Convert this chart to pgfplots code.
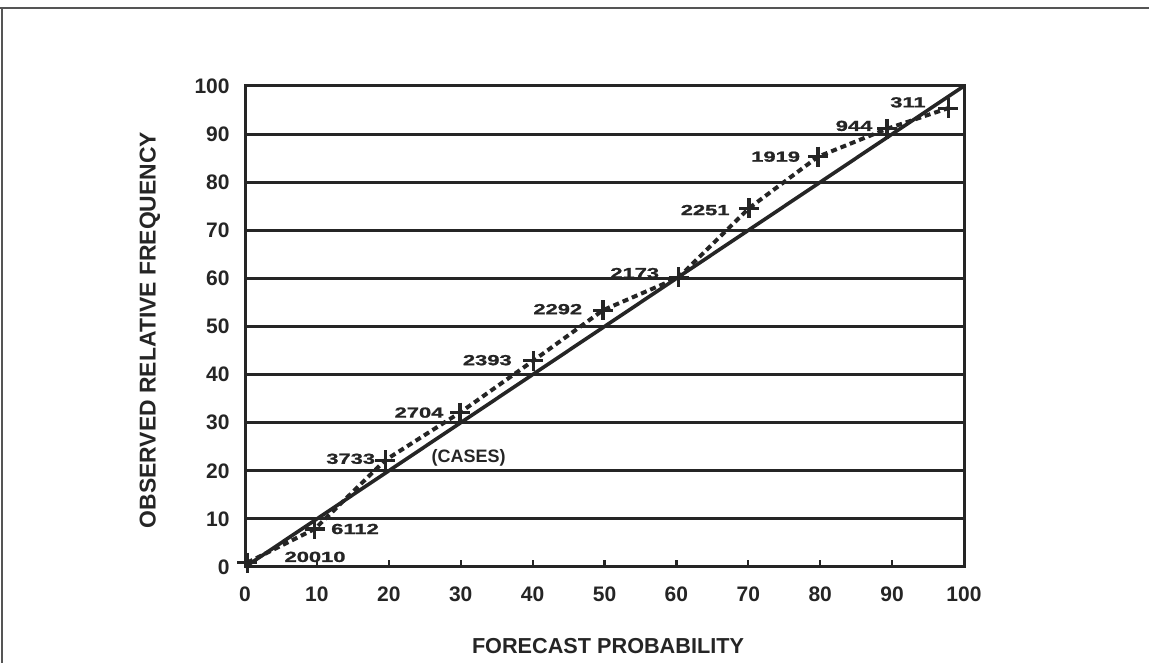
\documentclass[border=0pt]{standalone}
\usepackage{pgfplots}
\pgfplotsset{compat=1.18}
\usepackage{fontspec}
\setmainfont{Liberation Sans}
\newfontfamily\heavy[FakeBold=1.2]{Liberation Sans Bold}
\usepackage{graphicx}
\definecolor{ink}{HTML}{252525}
\definecolor{frame}{HTML}{555555}
\newcommand{\dl}[1]{\scalebox{1.5}[1]{\heavy\fontsize{7.3}{8}\selectfont #1}}
\begin{document}
\begin{tikzpicture}
\draw[frame, line width=1pt] (0pt,327.5pt) -- (574.5pt,327.5pt);
\draw[frame, line width=1pt] (1pt,327.5pt) -- (1pt,0pt);
\begin{axis}[
  at={(122.5pt,48pt)}, anchor=south west,
  width=359.5pt, height=240.5pt, scale only axis,
  xmin=0, xmax=100, ymin=0, ymax=100,
  xtick={0,10,...,100}, ytick={0,10,...,100},
  ymajorgrids, grid style={ink, line width=1.5pt},
  axis line style={ink, line width=1.5pt},
  xtick pos=bottom, ytick pos=left,
  tick align=inside, major tick length=3.5pt,
  xtick style={ink, line width=1.1pt},
  ytick style={draw=none},
  /pgf/number format/assume math mode=true,
  tick label style={font=\bfseries\fontsize{10.5}{12}\selectfont, text=ink, inner sep=0pt},
  xticklabel style={anchor=center, yshift=-13.5pt},
  yticklabel style={anchor=east, xshift=-7.5pt},
  clip=false,
]
\addplot[ink, line width=1.8pt] coordinates {(0,0) (100,100)};
\addplot[ink, line width=2pt, dash pattern=on 3pt off 2pt,
  mark=+, mark size=5pt, mark options={solid, line width=1.6pt}]
  coordinates {(0.3,0.9) (9.7,7.9) (19.5,22.2) (29.9,32.1) (40.1,42.9)
               (49.8,53.4) (60.3,60.2) (70.1,74.6) (79.7,85.3) (89.3,91.1) (97.8,95.4)};
\node[ink, inner sep=0pt] at (axis cs:9.74,2.1) {\dl{20010}};
\node[ink, inner sep=0pt] at (axis cs:15.3,7.9) {\dl{6112}};
\node[ink, inner sep=0pt] at (axis cs:14.7,22.5) {\dl{3733}};
\node[ink, inner sep=0pt] at (axis cs:24.2,32.1) {\dl{2704}};
\node[ink, inner sep=0pt] at (axis cs:33.7,43.0) {\dl{2393}};
\node[ink, inner sep=0pt] at (axis cs:43.5,53.6) {\dl{2292}};
\node[ink, inner sep=0pt] at (axis cs:54.2,61.1) {\dl{2173}};
\node[ink, inner sep=0pt] at (axis cs:64.0,74.2) {\dl{2251}};
\node[ink, inner sep=0pt] at (axis cs:73.8,85.3) {\dl{1919}};
\node[ink, inner sep=0pt] at (axis cs:84.7,91.7) {\dl{944}};
\node[ink, inner sep=0pt] at (axis cs:92.2,96.6) {\dl{311}};
\node[ink, inner sep=0pt, font=\bfseries\fontsize{9}{10}\selectfont] at (axis cs:31.1,22.6) {(CASES)};
\end{axis}
\node[ink, inner sep=0pt] at (304pt,8.5pt) {\resizebox{136pt}{!}{\bfseries FORECAST PROBABILITY}};
\node[ink, inner sep=0pt, rotate=90] at (75pt,166.5pt) {\resizebox{198pt}{!}{\bfseries OBSERVED RELATIVE FREQUENCY}};
\pgfresetboundingbox
\path[use as bounding box] (0,0) rectangle (574.5pt,331.5pt);
\end{tikzpicture}
\end{document}
